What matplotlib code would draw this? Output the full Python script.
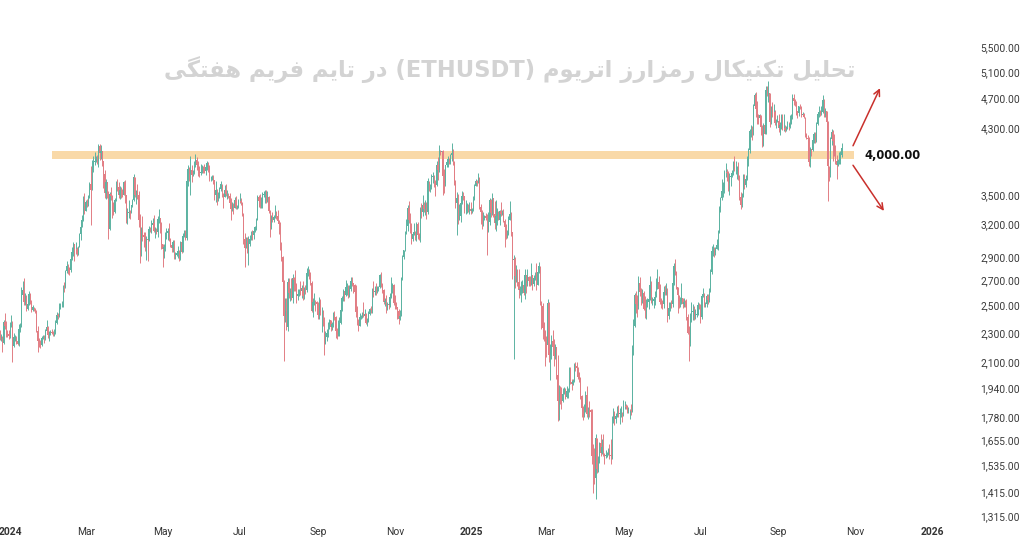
import numpy as np
import pandas as pd
import matplotlib
matplotlib.use("Agg")
import matplotlib.pyplot as plt
import matplotlib.dates as mdates

# ---------------- data ----------------
title_fa = "تحلیل تکنیکال رمزارز اتریوم (ETHUSDT) در تایم فریم هفتگی"
level_label = "4,000.00"
level_low, level_high = 3910, 4000
band_start, band_end = "2024-02-03", "2025-10-31"
start_date = "2023-12-22"
first_open = 2240

close_2023 = [2325, 2305, 2265, 2272, 2230, 2378, 2345, 2300, 2292, 2281]
high_2023 = [2340, 2330, 2320, 2290, 2280, 2390, 2445, 2385, 2320, 2320]
low_2023 = [2275, 2275, 2250, 2240, 2170, 2220, 2330, 2270, 2270, 2260]

close_2024 = [
    # Jan
    2352, 2355, 2210, 2268, 2268, 2240, 2222, 2330, 2344, 2585,
    2617, 2525, 2576, 2472, 2511, 2587, 2528, 2467, 2490, 2469,
    2455, 2314, 2242, 2236, 2218, 2267, 2268, 2257, 2316, 2343, 2283,
    # Feb
    2304, 2309, 2296, 2290, 2299, 2372, 2425, 2420, 2485, 2500,
    2507, 2660, 2643, 2776, 2823, 2803, 2786, 2880, 2945, 3014,
    2967, 2972, 2922, 2992, 3113, 3178, 3243, 3384, 3340,
    # Mar
    3433, 3421, 3487, 3627, 3552, 3817, 3869, 3889, 3912, 3880,
    4066, 3983, 4004, 3880, 3735, 3523, 3644, 3516, 3159, 3516,
    3492, 3335, 3330, 3454, 3589, 3587, 3501, 3561, 3510, 3506, 3645,
    # Apr
    3503, 3278, 3312, 3330, 3320, 3396, 3454, 3700, 3505, 3546,
    3505, 3240, 3010, 3157, 3100, 3084, 2983, 3064, 3056, 3154,
    3147, 3200, 3219, 3140, 3156, 3131, 3256, 3263, 3216, 3015,
    # May
    2970, 2988, 3103, 3117, 3136, 3064, 3005, 2975, 3036, 2910,
    2912, 2930, 2950, 2880, 3034, 2944, 3092, 3123, 3071, 3660,
    3790, 3736, 3780, 3727, 3748, 3828, 3891, 3842, 3767, 3746, 3760,
    # Jun
    3814, 3780, 3767, 3810, 3864, 3813, 3678, 3681, 3705, 3666,
    3497, 3561, 3470, 3482, 3565, 3622, 3512, 3483, 3561, 3514,
    3518, 3495, 3420, 3353, 3393, 3370, 3450, 3376, 3376, 3435,
    # Jul
    3440, 3420, 3296, 3058, 2982, 3072, 2931, 3020, 3066, 3102,
    3101, 3134, 3178, 3248, 3485, 3443, 3391, 3425, 3504, 3517,
    3537, 3441, 3482, 3336, 3175, 3276, 3248, 3270, 3320, 3280, 3232,
    # Aug
    3205, 2990, 2900, 2688, 2419, 2460, 2340, 2682, 2600, 2610,
    2555, 2722, 2703, 2661, 2570, 2592, 2614, 2612, 2636, 2574,
    2630, 2623, 2762, 2768, 2745, 2681, 2456, 2528, 2528, 2525, 2513,
    # Sep
    2425, 2537, 2449, 2449, 2369, 2224, 2271, 2297, 2359, 2388,
    2339, 2360, 2434, 2417, 2315, 2292, 2342, 2372, 2465, 2560,
    2610, 2580, 2646, 2652, 2580, 2632, 2695, 2678, 2658, 2602,
    # Oct
    2448, 2363, 2349, 2414, 2414, 2440, 2422, 2439, 2370, 2387,
    2438, 2476, 2467, 2629, 2606, 2611, 2603, 2640, 2643, 2745,
    2668, 2621, 2525, 2536, 2475, 2508, 2506, 2569, 2637, 2660, 2520,
    # Nov
    2513, 2489, 2459, 2398, 2422, 2720, 2898, 2960, 3135, 3190,
    3370, 3246, 3187, 3060, 3110, 3129, 3075, 3207, 3102, 3070,
    3355, 3327, 3395, 3358, 3414, 3323, 3660, 3585, 3590, 3705,
    # Dec
    3706, 3642, 3613, 3835, 3785, 4000, 3997, 4006, 3712, 3628,
    3834, 3877, 3907, 3873, 3958, 3986, 3876, 3628, 3418, 3466,
    3281, 3283, 3418, 3490, 3489, 3331, 3335, 3398, 3349, 3357, 3332,
]
high_2024 = [
    2375, 2430, 2385, 2295, 2285, 2275, 2265, 2360, 2370, 2645,
    2690, 2717, 2600, 2580, 2545, 2610, 2595, 2545, 2505, 2490,
    2480, 2465, 2345, 2265, 2250, 2275, 2285, 2285, 2325, 2390, 2350,
    2310, 2320, 2325, 2310, 2325, 2395, 2450, 2445, 2520, 2520,
    2535, 2665, 2685, 2785, 2865, 2840, 2810, 2890, 2985, 3030,
    3015, 3030, 2985, 3000, 3120, 3195, 3290, 3490, 3520,
    3445, 3455, 3500, 3640, 3825, 3900, 3940, 3995, 3940, 3960,
    4090, 4093, 4085, 4010, 3880, 3780, 3680, 3640, 3550, 3530,
    3590, 3500, 3430, 3465, 3660, 3680, 3640, 3605, 3585, 3570, 3650,
    3665, 3500, 3370, 3445, 3345, 3400, 3460, 3730, 3700, 3560,
    3620, 3550, 3300, 3180, 3280, 3125, 3125, 3095, 3130, 3185,
    3175, 3240, 3265, 3290, 3175, 3165, 3285, 3355, 3250, 3230,
    3020, 3015, 3125, 3170, 3170, 3220, 3075, 3030, 3055, 3055,
    2940, 2955, 3000, 2960, 3040, 3040, 3120, 3145, 3145, 3665,
    3840, 3815, 3950, 3840, 3780, 3880, 3975, 3930, 3880, 3825, 3845,
    3835, 3830, 3850, 3830, 3885, 3875, 3840, 3715, 3720, 3720,
    3665, 3655, 3565, 3535, 3590, 3650, 3625, 3520, 3610, 3625,
    3555, 3525, 3520, 3465, 3430, 3420, 3480, 3490, 3400, 3460,
    3525, 3465, 3425, 3320, 3120, 3085, 3080, 3095, 3100, 3135,
    3150, 3155, 3190, 3260, 3500, 3500, 3515, 3485, 3530, 3540,
    3560, 3560, 3540, 3490, 3345, 3290, 3330, 3290, 3400, 3340, 3350,
    3245, 3225, 3030, 2905, 2700, 2560, 2555, 2715, 2720, 2640,
    2720, 2750, 2730, 2785, 2680, 2630, 2630, 2690, 2665, 2690,
    2645, 2665, 2800, 2820, 2790, 2765, 2690, 2555, 2600, 2545, 2535,
    2525, 2565, 2550, 2490, 2465, 2410, 2310, 2330, 2380, 2400,
    2380, 2380, 2450, 2460, 2420, 2335, 2390, 2410, 2505, 2570,
    2625, 2615, 2700, 2675, 2665, 2665, 2730, 2725, 2680, 2670,
    2660, 2495, 2400, 2440, 2425, 2450, 2525, 2475, 2445, 2405,
    2460, 2480, 2495, 2640, 2690, 2650, 2680, 2655, 2655, 2755,
    2770, 2675, 2630, 2555, 2580, 2525, 2530, 2600, 2725, 2680, 2670,
    2585, 2525, 2490, 2475, 2465, 2730, 2915, 2965, 3135, 3250,
    3395, 3440, 3320, 3220, 3130, 3220, 3135, 3225, 3225, 3120,
    3380, 3415, 3500, 3430, 3450, 3430, 3685, 3645, 3620, 3735,
    3760, 3725, 3670, 3890, 3935, 4085, 4020, 4010, 4015, 3795,
    3840, 3900, 3940, 3920, 3970, 4107, 4025, 3890, 3670, 3530,
    3510, 3410, 3430, 3540, 3535, 3480, 3445, 3420, 3410, 3430, 3425,
]
low_2024 = [
    2265, 2340, 2105, 2200, 2240, 2225, 2215, 2210, 2305, 2340,
    2575, 2500, 2505, 2460, 2465, 2505, 2515, 2450, 2460, 2460,
    2445, 2305, 2170, 2200, 2195, 2210, 2255, 2230, 2250, 2310, 2265,
    2240, 2285, 2290, 2275, 2275, 2290, 2360, 2400, 2415, 2475,
    2490, 2490, 2605, 2635, 2760, 2755, 2740, 2770, 2875, 2905,
    2865, 2925, 2905, 2915, 2985, 3055, 3175, 3235, 3300,
    3335, 3380, 3385, 3475, 3200, 3555, 3760, 3840, 3870, 3845,
    3815, 3900, 3910, 3830, 3580, 3470, 3460, 3465, 3060, 3150,
    3450, 3265, 3290, 3320, 3435, 3545, 3475, 3455, 3470, 3480, 3500,
    3420, 3215, 3210, 3265, 3255, 3310, 3375, 3440, 3480, 3405,
    3460, 3180, 2850, 2910, 3045, 2985, 2950, 2870, 2860, 3040,
    3125, 3120, 3180, 3125, 3070, 3105, 3080, 3215, 3115, 2970,
    2810, 2890, 2955, 3065, 3055, 3040, 2990, 2945, 2945, 2880,
    2885, 2905, 2890, 2865, 2870, 2930, 2940, 3085, 3050, 3050,
    3600, 3655, 3500, 3640, 3710, 3735, 3820, 3785, 3710, 3700, 3725,
    3750, 3745, 3740, 3720, 3780, 3760, 3650, 3660, 3665, 3625,
    3445, 3430, 3400, 3440, 3470, 3540, 3480, 3365, 3480, 3495,
    3455, 3470, 3405, 3240, 3340, 3305, 3365, 3360, 3355, 3370,
    3415, 3395, 3280, 3020, 2810, 2980, 2930, 2825, 3000, 3050,
    3050, 3065, 3125, 3150, 3240, 3380, 3370, 3365, 3365, 3480,
    3420, 3420, 3430, 3310, 3085, 3160, 3225, 3230, 3260, 3250, 3225,
    3105, 2965, 2860, 2630, 2111, 2380, 2320, 2310, 2555, 2535,
    2545, 2520, 2615, 2615, 2520, 2545, 2575, 2580, 2560, 2540,
    2550, 2590, 2605, 2735, 2710, 2660, 2450, 2410, 2500, 2460, 2500,
    2400, 2400, 2425, 2305, 2345, 2150, 2220, 2240, 2270, 2325,
    2310, 2320, 2340, 2395, 2265, 2255, 2280, 2280, 2360, 2455,
    2535, 2535, 2570, 2585, 2560, 2565, 2610, 2650, 2600, 2560,
    2415, 2355, 2310, 2350, 2400, 2405, 2415, 2420, 2365, 2350,
    2375, 2430, 2440, 2445, 2565, 2585, 2585, 2600, 2615, 2635,
    2645, 2600, 2515, 2495, 2440, 2465, 2470, 2490, 2560, 2595, 2500,
    2470, 2470, 2400, 2360, 2390, 2440, 2700, 2880, 2950, 3105,
    3135, 3215, 3120, 3020, 3040, 3100, 3050, 3040, 3060, 3050,
    3030, 3260, 3280, 3330, 3290, 3250, 3300, 3540, 3535, 3570,
    3635, 3590, 3490, 3605, 3670, 3760, 3960, 3960, 3500, 3520,
    3600, 3810, 3820, 3850, 3845, 3890, 3835, 3610, 3370, 3100,
    3210, 3245, 3225, 3410, 3450, 3320, 3300, 3310, 3325, 3300, 3300,
]

close_2025 = [
    # Jan
    3353, 3451, 3605, 3657, 3635, 3687, 3380, 3328, 3220, 3265,
    3282, 3267, 3136, 3225, 3450, 3310, 3473, 3307, 3216, 3285,
    3327, 3242, 3339, 3300, 3315, 3238, 3180, 3081, 3112, 3240, 3300,
    # Feb
    3125, 2870, 2880, 2735, 2788, 2688, 2620, 2630, 2635, 2660,
    2600, 2740, 2680, 2725, 2690, 2665, 2745, 2670, 2715, 2740,
    2663, 2765, 2816, 2510, 2495, 2335, 2308, 2237,
    # Mar
    2218, 2520, 2152, 2170, 2240, 2200, 2140, 2200, 2020, 1865,
    1920, 1910, 1865, 1910, 1935, 1890, 1925, 1930, 2060, 1980,
    1965, 1985, 2085, 2080, 2068, 2010, 2005, 1895, 1830, 1805, 1822,
    # Apr
    1905, 1795, 1817, 1815, 1805, 1580, 1555, 1475, 1670, 1520,
    1568, 1645, 1595, 1625, 1590, 1578, 1585, 1590, 1614, 1585,
    1580, 1755, 1796, 1769, 1785, 1822, 1793, 1800, 1800, 1793,
    # May
    1840, 1840, 1832, 1810, 1816, 1817, 1810, 2207, 2345, 2582,
    2512, 2495, 2680, 2608, 2545, 2595, 2475, 2465, 2523, 2525,
    2550, 2665, 2528, 2532, 2550, 2565, 2658, 2682, 2630, 2530, 2528,
    # Jun
    2510, 2605, 2592, 2605, 2420, 2482, 2525, 2510, 2680, 2820,
    2770, 2645, 2580, 2535, 2545, 2555, 2510, 2525, 2520, 2410,
    2295, 2230, 2420, 2450, 2460, 2420, 2425, 2435, 2505, 2485,
    # Jul
    2410, 2570, 2590, 2510, 2515, 2570, 2545, 2615, 2770, 2955,
    2955, 2940, 2970, 3010, 3130, 3365, 3470, 3545, 3590, 3755,
    3760, 3745, 3630, 3705, 3715, 3745, 3875, 3795, 3795, 3810, 3695,
    # Aug
    3480, 3395, 3495, 3720, 3610, 3680, 3910, 4015, 4255, 4265,
    4220, 4600, 4750, 4555, 4440, 4425, 4475, 4310, 4075, 4335,
    4225, 4830, 4780, 4780, 4375, 4595, 4505, 4510, 4360, 4375, 4390,
    # Sep
    4300, 4330, 4450, 4300, 4300, 4275, 4305, 4310, 4305, 4350,
    4460, 4715, 4670, 4605, 4525, 4500, 4590, 4585, 4470, 4480,
    4450, 4200, 4165, 4150, 3875, 4030, 4015, 4140, 4220, 4145,
    # Oct
    4350, 4480, 4515, 4480, 4515, 4685, 4470, 4525, 4370, 3830,
    3750, 4150, 4245, 4125, 3985, 3890, 3835, 3885, 3890, 3960, 4040,
]
high_2025 = [
    3365, 3490, 3620, 3675, 3670, 3745, 3700, 3410, 3345, 3330,
    3295, 3310, 3300, 3330, 3470, 3460, 3525, 3450, 3440, 3450,
    3365, 3340, 3350, 3425, 3350, 3355, 3255, 3210, 3145, 3280, 3440,
    3325, 3120, 2920, 2895, 2830, 2795, 2795, 2650, 2690, 2700,
    2690, 2790, 2720, 2790, 2735, 2735, 2850, 2745, 2740, 2765,
    2845, 2790, 2855, 2820, 2535, 2520, 2380, 2320,
    2275, 2550, 2525, 2220, 2285, 2320, 2255, 2225, 2205, 2150,
    1960, 1955, 1950, 1945, 1950, 1945, 1955, 1945, 2070, 2070,
    1995, 2000, 2100, 2105, 2105, 2075, 2040, 2010, 1905, 1840, 1850,
    1925, 1955, 1835, 1865, 1825, 1820, 1640, 1620, 1690, 1670,
    1580, 1650, 1690, 1665, 1690, 1595, 1610, 1600, 1620, 1640,
    1665, 1785, 1830, 1810, 1800, 1840, 1845, 1830, 1840, 1805,
    1875, 1870, 1850, 1845, 1835, 1825, 1850, 2215, 2400, 2600,
    2615, 2580, 2735, 2730, 2640, 2630, 2610, 2570, 2550, 2560,
    2635, 2735, 2695, 2565, 2565, 2610, 2715, 2790, 2735, 2670, 2560,
    2545, 2655, 2660, 2680, 2640, 2525, 2530, 2540, 2690, 2845,
    2880, 2775, 2645, 2585, 2565, 2680, 2560, 2555, 2540, 2550,
    2435, 2350, 2440, 2525, 2515, 2495, 2470, 2450, 2525, 2520,
    2515, 2580, 2640, 2600, 2530, 2590, 2590, 2635, 2790, 2995,
    3020, 2985, 2990, 3060, 3150, 3390, 3480, 3675, 3640, 3780,
    3860, 3790, 3765, 3750, 3735, 3785, 3890, 3940, 3880, 3830, 3870,
    3720, 3530, 3525, 3735, 3730, 3725, 3940, 4045, 4290, 4330,
    4325, 4625, 4785, 4790, 4665, 4480, 4490, 4475, 4340, 4360,
    4355, 4885, 4885, 4955, 4780, 4600, 4645, 4620, 4540, 4410, 4475,
    4490, 4370, 4490, 4485, 4490, 4330, 4325, 4390, 4380, 4470,
    4480, 4770, 4770, 4700, 4670, 4520, 4600, 4630, 4600, 4510,
    4495, 4450, 4230, 4200, 4175, 4055, 4025, 4155, 4240, 4245,
    4380, 4510, 4590, 4545, 4600, 4755, 4700, 4570, 4530, 4395,
    3795, 4185, 4290, 4270, 4215, 4085, 3960, 3910, 3990, 4010, 4100,
]
low_2025 = [
    3320, 3340, 3445, 3600, 3600, 3630, 3360, 3210, 3160, 3185,
    3240, 3240, 2920, 3125, 3195, 3275, 3295, 3270, 3160, 3140,
    3200, 3240, 3200, 3285, 3290, 3225, 2985, 3060, 3070, 3100, 3245,
    3090, 2710, 2125, 2640, 2685, 2650, 2560, 2580, 2530, 2600,
    2580, 2550, 2600, 2655, 2650, 2650, 2660, 2620, 2655, 2700,
    2620, 2660, 2760, 2500, 2330, 2255, 2240, 2080,
    2135, 2170, 2105, 1990, 2120, 2170, 2080, 2125, 1995, 1755,
    1760, 1850, 1825, 1860, 1910, 1880, 1885, 1885, 1920, 1970,
    1930, 1960, 1980, 2045, 2020, 2000, 1980, 1880, 1780, 1765, 1780,
    1805, 1780, 1770, 1780, 1770, 1540, 1410, 1450, 1385, 1500,
    1505, 1545, 1580, 1590, 1580, 1540, 1570, 1575, 1585, 1565,
    1540, 1565, 1745, 1735, 1745, 1780, 1780, 1740, 1780, 1750,
    1785, 1820, 1820, 1800, 1800, 1770, 1790, 1805, 2150, 2340,
    2440, 2410, 2475, 2575, 2505, 2520, 2465, 2405, 2400, 2485,
    2475, 2545, 2520, 2505, 2480, 2505, 2565, 2630, 2605, 2510, 2480,
    2475, 2480, 2580, 2580, 2380, 2400, 2460, 2480, 2490, 2660,
    2740, 2630, 2440, 2480, 2490, 2510, 2480, 2490, 2490, 2390,
    2290, 2110, 2210, 2380, 2395, 2390, 2400, 2410, 2425, 2470,
    2370, 2400, 2565, 2485, 2490, 2490, 2510, 2530, 2605, 2750,
    2910, 2900, 2920, 2970, 2960, 3120, 3325, 3445, 3480, 3525,
    3700, 3650, 3540, 3505, 3605, 3700, 3720, 3765, 3730, 3680, 3670,
    3450, 3355, 3375, 3485, 3570, 3590, 3670, 3830, 3980, 4185,
    4140, 4210, 4580, 4450, 4355, 4350, 4400, 4210, 4060, 4070,
    4220, 4220, 4735, 4650, 4310, 4350, 4440, 4480, 4340, 4300, 4370,
    4250, 4210, 4280, 4265, 4255, 4250, 4260, 4280, 4270, 4295,
    4350, 4420, 4615, 4590, 4465, 4430, 4455, 4560, 4440, 4455,
    4430, 4180, 4150, 4100, 3830, 3815, 3950, 4010, 4110, 4100,
    4120, 4330, 4450, 4460, 4470, 4500, 4445, 4440, 4335, 3435,
    3650, 3700, 4080, 3890, 3940, 3855, 3680, 3825, 3845, 3855, 3930,
]

ytick_values = [1315, 1415, 1535, 1655, 1780, 1940, 2100, 2300, 2500, 2700,
                2900, 3200, 3500, 4300, 4700, 5100, 5500]

assert len(close_2023) == len(high_2023) == len(low_2023) == 10
assert len(close_2024) == len(high_2024) == len(low_2024) == 366
assert len(close_2025) == len(high_2025) == len(low_2025) == 294

# ---------------- Persian shaping (presentation forms, visual order) ----------------
FORMS = {
    'ا': ('\uFE8D', '\uFE8E', None, None),
    'ت': ('\uFE95', '\uFE96', '\uFE97', '\uFE98'),
    'ح': ('\uFEA1', '\uFEA2', '\uFEA3', '\uFEA4'),
    'د': ('\uFEA9', '\uFEAA', None, None),
    'ر': ('\uFEAD', '\uFEAE', None, None),
    'ز': ('\uFEAF', '\uFEB0', None, None),
    'ف': ('\uFED1', '\uFED2', '\uFED3', '\uFED4'),
    'ل': ('\uFEDD', '\uFEDE', '\uFEDF', '\uFEE0'),
    'م': ('\uFEE1', '\uFEE2', '\uFEE3', '\uFEE4'),
    'ن': ('\uFEE5', '\uFEE6', '\uFEE7', '\uFEE8'),
    'ه': ('\uFEE9', '\uFEEA', '\uFEEB', '\uFEEC'),
    'و': ('\uFEED', '\uFEEE', None, None),
    'ی': ('\uFBFC', '\uFBFD', '\uFBFE', '\uFBFF'),
    'ک': ('\uFB8E', '\uFB8F', '\uFB90', '\uFB91'),
    'گ': ('\uFB92', '\uFB93', '\uFB94', '\uFB95'),
}


def shape_word(w):
    w = w.replace('ي', 'ی').replace('ك', 'ک')
    if not any(c in FORMS for c in w):
        return w
    out = []
    n = len(w)
    for i, ch in enumerate(w):
        if ch not in FORMS:
            out.append(ch)
            continue
        iso, fin, ini, med = FORMS[ch]
        prev_j = i > 0 and w[i - 1] in FORMS and FORMS[w[i - 1]][2] is not None
        next_j = i < n - 1 and w[i + 1] in FORMS and ini is not None
        if prev_j and next_j:
            f = med
        elif prev_j:
            f = fin
        elif next_j:
            f = ini
        else:
            f = iso
        out.append(f)
    return ''.join(reversed(out))


def visual_rtl(text):
    return ' '.join(shape_word(w) for w in reversed(text.split(' ')))


# ---------------- build candles ----------------
closes = np.array(close_2023 + close_2024 + close_2025, dtype=float)
highs = np.array(high_2023 + high_2024 + high_2025, dtype=float)
lows = np.array(low_2023 + low_2024 + low_2025, dtype=float)
opens = np.concatenate([[first_open], closes[:-1]])
highs = np.maximum(highs, np.maximum(opens, closes))
lows = np.minimum(lows, np.minimum(opens, closes))

dates = pd.date_range(start_date, periods=len(closes), freq="D")
x = mdates.date2num(dates.to_pydatetime())
up = closes >= opens
col_up, col_dn = "#5cb3a2", "#e27d84"
colors = np.where(up, col_up, col_dn)

# ---------------- figure ----------------
W, H = 1024, 541
fig = plt.figure(figsize=(W / 100, H / 100), dpi=100)
ax = fig.add_axes([0, 21 / H, 970 / W, 520 / H])
ax.set_yscale("log")

ax.vlines(x, lows, highs, colors=colors, lw=0.7, zorder=3)
body_lo = np.minimum(opens, closes)
body_h = np.maximum(np.abs(closes - opens), 0.5)
ax.bar(x, body_h, bottom=body_lo, width=0.7, color=colors, lw=0, zorder=3)

# support / resistance band
bx = mdates.date2num([pd.Timestamp(band_start), pd.Timestamp(band_end)])
ax.fill_between(bx, level_low, level_high, color="#f9d9a8", lw=0, zorder=1)

# axis limits (pixel-calibrated)
d0 = mdates.date2num(pd.Timestamp("2024-01-01"))
ax.set_xlim(d0 - 7.9, d0 + 760.7)
ax.set_ylim(1299, 6350)

for s in ax.spines.values():
    s.set_visible(False)

# y ticks
ax.yaxis.tick_right()
ax.set_yticks(ytick_values)
ax.set_yticklabels([f"{v:,.2f}" for v in ytick_values])
ax.yaxis.set_minor_locator(matplotlib.ticker.NullLocator())
ax.tick_params(axis="y", length=0, pad=36, labelsize=7.4, labelcolor="#3a3a3a")
for lab in ax.get_yticklabels():
    lab.set_horizontalalignment("right")
    lab.set_fontfamily("Roboto")

# x ticks
xt = pd.date_range("2024-01-01", "2026-01-01", freq="2MS")
ax.set_xticks(mdates.date2num(xt.to_pydatetime()))
ax.set_xticklabels([d.strftime("%Y") if d.month == 1 else d.strftime("%b") for d in xt])
ax.tick_params(axis="x", length=0, pad=5, labelsize=7.4, labelcolor="#333333")
for lab, d in zip(ax.get_xticklabels(), xt):
    lab.set_fontfamily("Roboto")
    if d.month == 1:
        lab.set_fontweight("bold")

# arrows and level label
arrow_kw = dict(arrowstyle="->", color="#c9302c", lw=1.1, mutation_scale=11,
                shrinkA=0, shrinkB=0)
ax.annotate("", xy=(d0 + 689.4, 4852), xytext=(d0 + 668.0, 4070), arrowprops=arrow_kw, zorder=4)
ax.annotate("", xy=(d0 + 692.5, 3336), xytext=(d0 + 668.0, 3835), arrowprops=arrow_kw, zorder=4)
ax.text(d0 + 699, (level_low * level_high) ** 0.5, level_label, ha="center", va="center",
        fontsize=8.3, fontweight="bold", color="#111111", family="DejaVu Sans", zorder=5)

# title (light watermark-like)
fig.text(510 / W, 1 - 70 / H, visual_rtl(title_fa), ha="center", va="center",
         fontsize=16.3, fontweight="bold", color="#d3d3d3", family="DejaVu Sans")

fig.savefig("out.png", dpi=100, facecolor="white")
